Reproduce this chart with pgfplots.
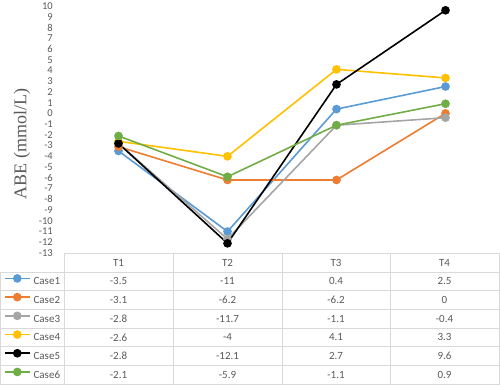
\documentclass[border=0pt]{standalone}
\usepackage{fontspec}
\setmainfont{Carlito}
\newfontfamily\seriffont{Liberation Serif}
\usepackage{pgfplots}
\pgfplotsset{compat=1.18}
\definecolor{cA}{HTML}{5B9BD5}
\definecolor{cB}{HTML}{ED7D31}
\definecolor{cC}{HTML}{A5A5A5}
\definecolor{cD}{HTML}{FFC000}
\definecolor{cE}{HTML}{000000}
\definecolor{cF}{HTML}{70AD47}
\definecolor{txt}{HTML}{595959}
\definecolor{tgrid}{HTML}{D9D9D9}
\begin{document}
\begin{tikzpicture}[x=1pt,y=1pt]
\useasboundingbox (0,0) rectangle (500,-385);
\begin{axis}[
  at={(64pt,-253pt)}, anchor=south west,
  scale only axis, width=436pt, height=247pt,
  xmin=0.5, xmax=4.5, ymin=-13, ymax=10,
  ytick={-13,-12,...,10},
  xtick=\empty,
  axis lines=left,
  axis line style={draw=none},
  major tick length=0pt,
  /pgf/number format/assume math mode=true,
  yticklabel style={font=\fontsize{10.5}{12}\selectfont, text=txt, anchor=east, inner sep=0pt, xshift=-11pt},
  ylabel={ABE (mmol/L)},
  ylabel style={font=\seriffont\fontsize{18}{20}\selectfont, text=txt, at={(axis description cs:-0.0963,0.441)}, anchor=center},
  clip=false,
  every axis plot/.append style={line width=1.6pt, mark=*, mark size=3.5pt},
  legend cell align=left,
  legend style={at={(axis description cs:-0.1468,-0.0769)}, anchor=north west,
    draw=none, fill=none, inner sep=0pt, outer sep=0pt, row sep=0pt, column sep=3pt,
    nodes={inner sep=0pt, text=txt, font=\fontsize{11}{13}\selectfont, text height=12.85pt, text depth=5.85pt}},
  legend image code/.code={
    \path (0pt,0pt);
    \draw[mark repeat=2, mark phase=2, #1] plot coordinates {(4pt,2.9pt) (16.5pt,2.9pt) (29pt,2.9pt)};
  },
]
\addplot[color=cA] coordinates {(1,-3.5) (2,-11) (3,0.4) (4,2.5)};
\addlegendentry{Case1}
\addplot[color=cB] coordinates {(1,-3.1) (2,-6.2) (3,-6.2) (4,0)};
\addlegendentry{Case2}
\addplot[color=cC] coordinates {(1,-2.8) (2,-11.7) (3,-1.1) (4,-0.4)};
\addlegendentry{Case3}
\addplot[color=cD] coordinates {(1,-2.6) (2,-4) (3,4.1) (4,3.3)};
\addlegendentry{Case4}
\addplot[color=cE] coordinates {(1,-2.8) (2,-12.1) (3,2.7) (4,9.6)};
\addlegendentry{Case5}
\addplot[color=cF] coordinates {(1,-2.1) (2,-5.9) (3,-1.1) (4,0.9)};
\addlegendentry{Case6}
\end{axis}
% table grid
\begin{scope}[tgrid, line width=0.8pt]
  \draw (64,-253) -- (500,-253);
  \foreach \k in {0,...,6} {\draw (0,{-272-18.7*\k}) -- (500,{-272-18.7*\k});}
  \foreach \xx in {64,173,282,390,499.5} {\draw (\xx,-253) -- (\xx,-384.2);}
  \draw (0.4,-272) -- (0.4,-384.2);
\end{scope}
\begin{scope}[every node/.style={text=txt, font=\fontsize{11}{13}\selectfont, inner sep=0pt, anchor=center}]
  \node at (118.5,-262.5) {T1};
  \node at (227.5,-262.5) {T2};
  \node at (336,-262.5) {T3};
  \node at (444.5,-262.5) {T4};
  \foreach \r/\a/\b/\c/\d in {0/-3.5/-11/0.4/2.5, 1/-3.1/-6.2/-6.2/0, 2/-2.8/-11.7/-1.1/-0.4, 3/-2.6/-4/4.1/3.3, 4/-2.8/-12.1/2.7/9.6, 5/-2.1/-5.9/-1.1/0.9} {
    \node at (118.5,{-281.35-18.7*\r}) {\a};
    \node at (227.5,{-281.35-18.7*\r}) {\b};
    \node at (336,{-281.35-18.7*\r}) {\c};
    \node at (444.5,{-281.35-18.7*\r}) {\d};
  }
\end{scope}
\end{tikzpicture}
\end{document}
